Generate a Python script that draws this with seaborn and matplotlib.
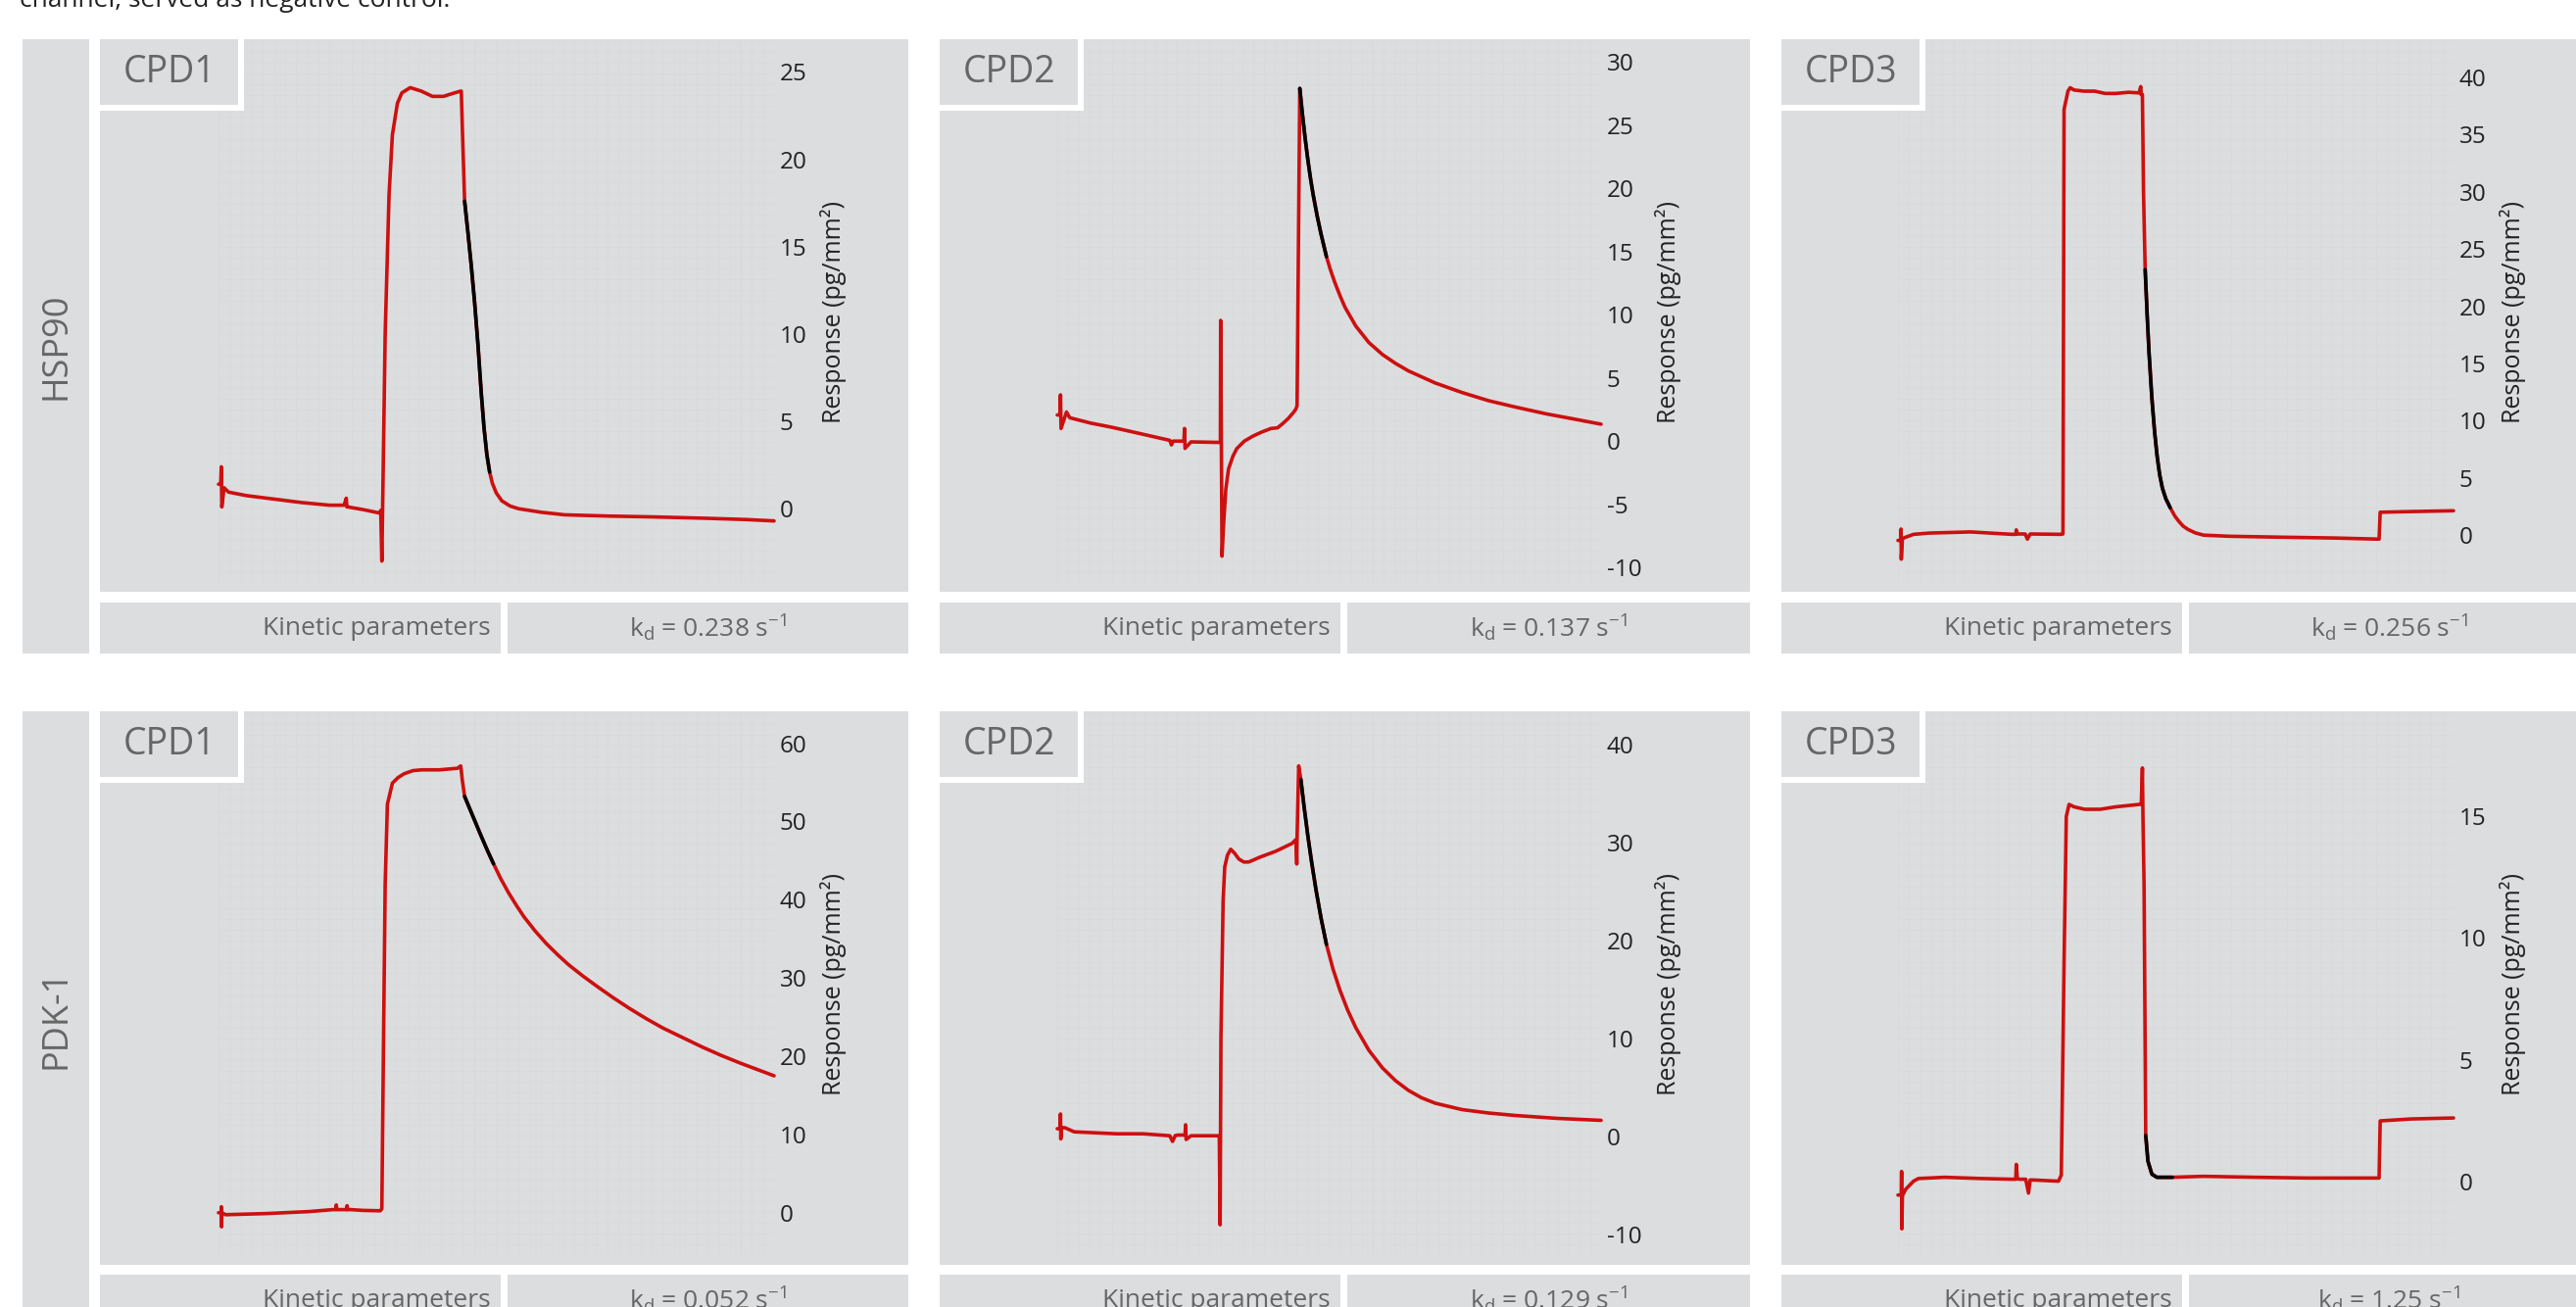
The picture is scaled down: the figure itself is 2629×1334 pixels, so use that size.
import numpy as np
import matplotlib.pyplot as plt
import seaborn as sns
from matplotlib.patches import Rectangle

sns.set_theme(style="white")
plt.rcParams["font.family"] = ["Open Sans", "DejaVu Sans"]
plt.rcParams["axes.unicode_minus"] = False
plt.rcParams["mathtext.default"] = "regular"

# ---------------------------------------------------------------
# data: time in % of the run, response in pg/mm²
# ---------------------------------------------------------------
targets = ["HSP90", "PDK-1"]
compounds = ["CPD1", "CPD2", "CPD3"]
kd_values = [["0.238", "0.137", "0.256"], ["0.052", "0.129", "1.25"]]

hsp90_cpd1_time = [0.0, 0.4, 0.5, 0.6, 1.0, 1.8, 5.0, 10.0, 15.0, 20.0, 22.6, 23.0, 23.1, 23.3, 26.0, 29.0,
                   29.2, 29.4, 30.0, 30.7, 31.3, 32.2, 33.0, 34.5, 36.5, 38.5, 40.5, 42.5, 43.6, 43.7, 43.9,
                   44.3, 44.9, 45.5, 46.1, 46.7, 47.3, 47.8, 48.3, 48.8, 49.3, 50.0, 51.0, 52.5, 54.0,
                   58.0, 62.3, 70.0, 78.4, 88.0, 95.0, 100.0]
hsp90_cpd1_resp = [1.4, 1.4, 2.4, 0.1, 1.2, 0.95, 0.75, 0.55, 0.35, 0.2, 0.2, 0.6, 0.1, 0.1, -0.05, -0.25,
                   -0.1, -3.0, 10.0, 18.0, 21.4, 23.2, 23.8, 24.1, 23.9, 23.6, 23.6, 23.8, 23.9, 23.9, 21.7,
                   17.6, 15.8, 13.9, 11.8, 9.4, 6.6, 4.6, 3.1, 2.1, 1.45, 0.9, 0.45, 0.15, 0.0,
                   -0.2, -0.35, -0.42, -0.47, -0.55, -0.62, -0.7]
hsp90_cpd1_fit_time = [44.3, 44.9, 45.5, 46.1, 46.7, 47.3, 47.8, 48.3, 48.8]
hsp90_cpd1_fit_resp = [17.6, 15.8, 13.9, 11.8, 9.4, 6.6, 4.6, 3.1, 2.1]
hsp90_cpd1_ticks = [0, 5, 10, 15, 20, 25]

hsp90_cpd2_time = [0.0, 0.5, 0.6, 0.7, 1.7, 2.3, 6.1, 10.0, 15.8, 20.7, 21.0, 21.3, 23.3, 23.4, 23.5, 24.6,
                   29.5, 30.0, 30.05, 30.3, 30.6, 31.0, 31.5, 32.3, 33.0, 34.4, 36.0, 37.5, 39.3, 40.5,
                   41.5, 42.5, 43.5, 43.9, 44.1, 44.6, 45.1, 45.6, 46.1, 46.6, 47.1, 47.8, 48.5, 49.5,
                   50.2, 51.0, 52.0, 52.9, 54.9, 57.3, 59.8, 62.2, 64.6, 69.5, 74.4, 79.3, 84.2, 90.0,
                   95.0, 100.0]
hsp90_cpd2_resp = [2.07, 2.07, 3.66, 1.0, 2.3, 1.85, 1.43, 1.1, 0.54, 0.06, -0.3, 0.0, 0.0, 1.0, -0.57, -0.06,
                   -0.1, -0.1, 9.55, -9.1, -6.5, -3.8, -2.2, -1.2, -0.6, 0.0, 0.4, 0.7, 1.0, 1.05,
                   1.4, 1.8, 2.3, 2.55, 2.8, 27.9, 25.8, 23.9, 22.2, 20.7, 19.4, 17.8, 16.4, 14.6,
                   13.6, 12.6, 11.5, 10.6, 9.1, 7.8, 6.85, 6.15, 5.55, 4.6, 3.85, 3.2, 2.7, 2.15,
                   1.75, 1.34]
hsp90_cpd2_fit_time = [44.6, 45.1, 45.6, 46.1, 46.6, 47.1, 47.8, 48.5, 49.5]
hsp90_cpd2_fit_resp = [27.9, 25.8, 23.9, 22.2, 20.7, 19.4, 17.8, 16.4, 14.6]
hsp90_cpd2_ticks = [-10, -5, 0, 5, 10, 15, 20, 25, 30]

hsp90_cpd3_time = [0.0, 0.5, 0.56, 0.6, 0.8, 1.4, 2.8, 5.6, 13.1, 20.5, 21.2, 21.3, 21.5, 22.9, 23.3, 23.8,
                   29.4, 29.7, 29.9, 30.6, 31.0, 31.7, 33.5, 35.4, 37.3, 39.2, 41.5, 43.4, 43.7, 43.8, 44.0,
                   44.2, 44.5, 44.85, 45.2, 45.7, 46.2, 46.65, 47.1, 47.6, 48.2, 49.0, 49.8, 50.4, 51.3,
                   52.2, 53.5, 55.0, 59.7, 69.0, 78.4, 86.6, 86.8, 92.4, 100.0]
hsp90_cpd3_resp = [-0.46, -0.46, 0.53, -2.1, -0.3, -0.18, 0.07, 0.18, 0.28, 0.07, 0.07, 0.46, 0.1, 0.1, -0.35, 0.1,
                   0.07, 0.1, 37.2, 38.8, 39.1, 38.9, 38.8, 38.8, 38.6, 38.6, 38.7, 38.65, 39.2, 38.5, 38.5,
                   30.0, 23.2, 19.3, 15.9, 12.0, 9.0, 6.9, 5.3, 4.1, 3.2, 2.4, 1.7, 1.3, 0.8,
                   0.5, 0.2, 0.0, -0.1, -0.18, -0.25, -0.35, 2.0, 2.06, 2.13]
hsp90_cpd3_fit_time = [44.5, 44.85, 45.2, 45.7, 46.2, 46.65, 47.1, 47.6, 48.2, 49.0]
hsp90_cpd3_fit_resp = [23.2, 19.3, 15.9, 12.0, 9.0, 6.9, 5.3, 4.1, 3.2, 2.4]
hsp90_cpd3_ticks = [0, 5, 10, 15, 20, 25, 30, 35, 40]

pdk1_cpd1_time = [0.0, 0.5, 0.52, 0.55, 0.6, 1.3, 8.8, 16.3, 20.6, 21.1, 21.2, 21.3, 22.2, 23.1, 23.15, 23.2,
                  23.8, 26.0, 29.1, 29.4, 29.7, 30.0, 30.4, 31.3, 32.3, 33.4, 35.0, 36.6, 38.2, 39.8,
                  41.4, 43.0, 43.6, 43.9, 44.3, 45.3, 46.3, 47.3, 48.4, 49.5, 50.8, 52.2, 53.6, 55.0,
                  57.0, 59.0, 61.0, 63.0, 65.5, 68.0, 71.0, 74.0, 77.0, 80.0, 83.5, 87.0, 90.5, 94.0,
                  97.0, 100.0]
pdk1_cpd1_resp = [0.0, 0.0, 0.76, -1.8, 0.0, -0.25, -0.1, 0.15, 0.4, 0.4, 1.0, 0.4, 0.4, 0.4, 0.9, 0.4,
                  0.4, 0.3, 0.25, 0.5, 21.8, 42.0, 52.2, 54.9, 55.6, 56.1, 56.5, 56.6, 56.6, 56.6,
                  56.7, 56.8, 57.1, 55.2, 53.2, 51.5, 49.8, 48.1, 46.3, 44.6, 42.7, 40.9, 39.3, 37.8,
                  36.0, 34.4, 33.0, 31.7, 30.3, 29.0, 27.5, 26.1, 24.8, 23.6, 22.4, 21.2, 20.1, 19.1,
                  18.3, 17.5]
pdk1_cpd1_fit_time = [44.3, 45.3, 46.3, 47.3, 48.4, 49.5]
pdk1_cpd1_fit_resp = [53.2, 51.5, 49.8, 48.1, 46.3, 44.6]
pdk1_cpd1_ticks = [0, 10, 20, 30, 40, 50, 60]

pdk1_cpd2_time = [0.0, 0.5, 0.6, 0.65, 0.8, 1.4, 3.1, 10.9, 15.8, 20.7, 21.2, 21.7, 22.2, 23.5, 23.6, 23.7,
                  24.6, 29.8, 29.95, 30.1, 30.5, 30.8, 31.3, 31.9, 32.6, 33.4, 34.3, 35.2, 37.3, 40.2,
                  43.2, 43.9, 44.05, 44.1, 44.4, 44.8, 45.4, 46.1, 46.8, 47.6, 48.5, 49.5, 50.7, 52.0,
                  53.4, 54.9, 57.3, 59.8, 62.2, 64.6, 67.0, 69.5, 74.4, 79.3, 84.2, 92.0, 100.0]
pdk1_cpd2_resp = [0.8, 0.8, 2.3, -0.24, 0.9, 0.9, 0.48, 0.28, 0.28, 0.08, -0.5, 0.1, 0.15, 0.15, 1.2, -0.3,
                  0.08, 0.08, -9.0, 10.0, 24.0, 27.5, 28.7, 29.3, 28.9, 28.3, 28.0, 28.0, 28.5, 29.1,
                  29.9, 30.3, 27.8, 30.5, 37.8, 36.4, 33.6, 30.6, 27.9, 25.1, 22.3, 19.6, 17.1, 14.9,
                  12.9, 11.1, 8.8, 7.0, 5.7, 4.7, 3.95, 3.4, 2.75, 2.4, 2.15, 1.85, 1.65]
pdk1_cpd2_fit_time = [44.8, 45.4, 46.1, 46.8, 47.6, 48.5, 49.5]
pdk1_cpd2_fit_resp = [36.4, 33.6, 30.6, 27.9, 25.1, 22.3, 19.6]
pdk1_cpd2_ticks = [-10, 0, 10, 20, 30, 40]

pdk1_cpd3_time = [0.0, 0.6, 0.65, 0.7, 0.8, 1.4, 2.8, 3.7, 8.4, 14.9, 20.5, 21.2, 21.3, 21.5, 21.9, 23.0,
                  23.5, 23.8, 24.3, 28.9, 29.4, 29.9, 30.3, 30.8, 31.7, 33.6, 36.4, 39.2, 43.4, 43.8,
                  44.0, 44.1, 44.3, 44.6, 45.0, 45.7, 46.6, 49.4, 55.0, 64.4, 73.7, 86.6, 86.8, 92.4, 100.0]
pdk1_cpd3_resp = [-0.57, -0.57, 0.4, -1.96, -0.6, -0.33, 0.0, 0.11, 0.16, 0.11, 0.08, 0.08, 0.69, 0.1, 0.08, 0.08,
                  -0.49, 0.05, 0.05, 0.0, 0.25, 9.0, 15.0, 15.5, 15.4, 15.3, 15.3, 15.4, 15.5, 15.5,
                  17.0, 15.0, 12.2, 1.88, 0.82, 0.29, 0.16, 0.16, 0.2, 0.16, 0.13, 0.13, 2.48, 2.56, 2.6]
pdk1_cpd3_fit_time = [44.6, 45.0, 45.7, 46.6, 49.4]
pdk1_cpd3_fit_resp = [1.88, 0.82, 0.29, 0.16, 0.16]
pdk1_cpd3_ticks = [0, 5, 10, 15]

panels = [
    [(hsp90_cpd1_time, hsp90_cpd1_resp, hsp90_cpd1_fit_time, hsp90_cpd1_fit_resp, hsp90_cpd1_ticks),
     (hsp90_cpd2_time, hsp90_cpd2_resp, hsp90_cpd2_fit_time, hsp90_cpd2_fit_resp, hsp90_cpd2_ticks),
     (hsp90_cpd3_time, hsp90_cpd3_resp, hsp90_cpd3_fit_time, hsp90_cpd3_fit_resp, hsp90_cpd3_ticks)],
    [(pdk1_cpd1_time, pdk1_cpd1_resp, pdk1_cpd1_fit_time, pdk1_cpd1_fit_resp, pdk1_cpd1_ticks),
     (pdk1_cpd2_time, pdk1_cpd2_resp, pdk1_cpd2_fit_time, pdk1_cpd2_fit_resp, pdk1_cpd2_ticks),
     (pdk1_cpd3_time, pdk1_cpd3_resp, pdk1_cpd3_fit_time, pdk1_cpd3_fit_resp, pdk1_cpd3_ticks)],
]

# ---------------------------------------------------------------
# layout (pixels of the 2629 x 1334 page)
# ---------------------------------------------------------------
W, H = 2629, 1334
BG = "#dcdddf"
RED = "#cc1010"
GREY_TXT = "#666666"
DARK_TXT = "#222222"

col_left = [102, 959, 1818]
col_right = [927, 1786, 2642]
row_top = [40, 726]
plot_bottom = [604, 1291]
strip_top = [615, 1301]
strip_bottom = [667, 1353]
grid_x = [(223, 790), (1079, 1634), (1937, 2504)]
grid_y = [(42, 595), (728, 1281)]
ylims = [[(-4.25, 26.76), (-11.22, 31.64), (-4.18, 43.17)],
         [(-5.41, 63.83), (-12.09, 43.17), (-3.04, 19.25)]]

fig = plt.figure(figsize=(W / 100, H / 100), dpi=100)
fig.patch.set_facecolor("white")


def px_rect(x0, y0, x1, y1, color, z=-1):
    fig.add_artist(Rectangle((x0 / W, 1 - y1 / H), (x1 - x0) / W, (y1 - y0) / H,
                             transform=fig.transFigure, facecolor=color,
                             edgecolor="none", zorder=z))


def px_text(x, y, s, **kw):
    fig.text(x / W, 1 - y / H, s, zorder=6, **kw)


# cut-off caption line at the very top
px_text(20, 7, "channel, served as negative control.", fontsize=19, color=DARK_TXT, va="baseline")

for r in range(2):
    # row strip with target name
    px_rect(23, row_top[r], 91, strip_bottom[r], BG)
    px_text(57, (row_top[r] + strip_bottom[r]) / 2, targets[r], rotation=90,
            ha="center", va="center", fontsize=26, color=GREY_TXT)

    for c in range(3):
        x0, x1 = col_left[c], col_right[c]
        # plot background
        px_rect(x0, row_top[r], x1, plot_bottom[r], BG)
        # kinetic parameter strip
        px_rect(x0, strip_top[r], x0 + 409, strip_bottom[r], BG)
        px_rect(x0 + 416, strip_top[r], x1, strip_bottom[r], BG)
        ymid = (strip_top[r] + strip_bottom[r]) / 2
        px_text(x0 + 399, ymid, "Kinetic parameters", ha="right", va="center",
                fontsize=19, color=GREY_TXT)
        px_text((x0 + 416 + x1) / 2, ymid, "k$_d$ = " + kd_values[r][c] + " s$^{-1}$",
                ha="center", va="center", fontsize=19, color=GREY_TXT)

        # compound label box with white frame
        px_rect(x0, row_top[r], x0 + 147, row_top[r] + 73, "white", z=4)
        px_rect(x0, row_top[r], x0 + 141, row_top[r] + 67, BG, z=5)
        px_text(x0 + 71, row_top[r] + 34, compounds[c], ha="center", va="center",
                fontsize=27, color=GREY_TXT)

        # data axes
        gx0, gx1 = grid_x[c]
        gy0, gy1 = grid_y[r]
        ax = fig.add_axes([gx0 / W, 1 - gy1 / H, (gx1 - gx0) / W, (gy1 - gy0) / H])
        ax.set_facecolor(BG)
        t, resp, ft, fresp, ticks = panels[r][c]
        sns.lineplot(x=t, y=resp, sort=False, estimator=None, color=RED, lw=2.6, ax=ax)
        sns.lineplot(x=ft, y=fresp, sort=False, estimator=None, color="black", lw=2.6, ax=ax)
        for ln in ax.lines:
            ln.set_clip_on(False)

        lo, hi = ylims[r][c]
        ax.set_xlim(0, 100)
        ax.set_ylim(lo, hi)
        ax.set_xticks([])
        ax.set_xticks(np.linspace(0, 100, 51), minor=True)
        ax.set_yticks(ticks)
        ax.set_yticklabels([str(v) for v in ticks])
        ax.set_yticks(np.linspace(lo, hi, 51), minor=True)
        ax.grid(False)
        ax.grid(True, which="minor", color="#d8d9db", lw=0.5)
        ax.yaxis.tick_right()
        ax.tick_params(axis="both", which="both", length=0)
        ax.tick_params(axis="y", which="major", pad=4, labelsize=17.5, labelcolor=DARK_TXT)
        for sp in ax.spines.values():
            sp.set_visible(False)
        ax.set_xlabel("")
        ax.yaxis.set_label_position("right")
        ax.set_ylabel("Response (pg/mm²)", fontsize=18, color=DARK_TXT, labelpad=10)

fig.savefig("out.png", dpi=100)
